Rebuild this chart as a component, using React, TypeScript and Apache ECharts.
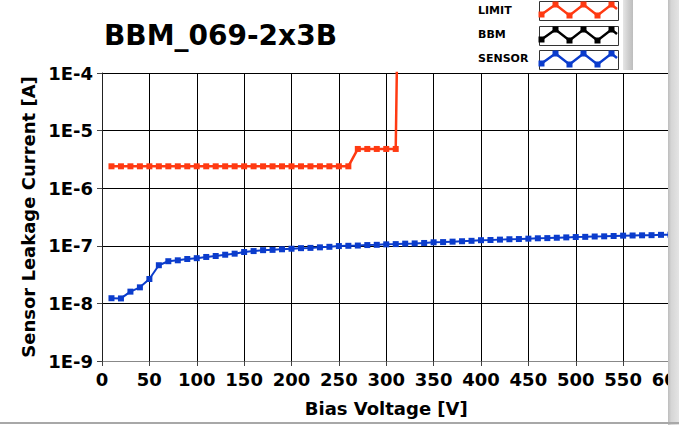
import React, { useEffect, useRef } from "react";
import * as echarts from "echarts";

const titleText = "BBM_069-2x3B";
const xAxisName = "Bias Voltage [V]";
const yAxisName = "Sensor Leakage Current [A]";
const seriesNames = ["LIMIT", "BBM", "SENSOR"];
const seriesColors = ["#ff3a12", "#000000", "#0b3ccc"];

const limitV = [10, 20, 30, 40, 50, 60, 70, 80, 90, 100, 110, 120, 130, 140, 150, 160, 170, 180, 190, 200, 210, 220, 230, 240, 250, 260, 270, 280, 290, 300, 310, 312];
const limitI = [2.4e-6, 2.4e-6, 2.4e-6, 2.4e-6, 2.4e-6, 2.4e-6, 2.4e-6, 2.4e-6, 2.4e-6, 2.4e-6, 2.4e-6, 2.4e-6, 2.4e-6, 2.4e-6, 2.4e-6, 2.4e-6, 2.4e-6, 2.4e-6, 2.4e-6, 2.4e-6, 2.4e-6, 2.4e-6, 2.4e-6, 2.4e-6, 2.4e-6, 2.4e-6, 4.8e-6, 4.8e-6, 4.8e-6, 4.8e-6, 4.8e-6, 1e-3];

const bbmV: number[] = [];
const bbmI: number[] = [];

const sensorV = [10, 20, 30, 40, 50, 60, 70, 80, 90, 100, 110, 120, 130, 140, 150, 160, 170, 180, 190, 200, 210, 220, 230, 240, 250, 260, 270, 280, 290, 300, 310, 320, 330, 340, 350, 360, 370, 380, 390, 400, 410, 420, 430, 440, 450, 460, 470, 480, 490, 500, 510, 520, 530, 540, 550, 560, 570, 580, 590, 600];
const sensorI = [1.23e-8, 1.22e-8, 1.6e-8, 1.9e-8, 2.65e-8, 4.6e-8, 5.4e-8, 5.6e-8, 5.9e-8, 6.1e-8, 6.4e-8, 6.65e-8, 7.0e-8, 7.3e-8, 7.8e-8, 8.1e-8, 8.4e-8, 8.5e-8, 8.7e-8, 8.9e-8, 9.1e-8, 9.2e-8, 9.4e-8, 9.6e-8, 9.9e-8, 1.0e-7, 1.01e-7, 1.03e-7, 1.04e-7, 1.06e-7, 1.07e-7, 1.09e-7, 1.1e-7, 1.12e-7, 1.15e-7, 1.16e-7, 1.18e-7, 1.2e-7, 1.22e-7, 1.25e-7, 1.26e-7, 1.28e-7, 1.3e-7, 1.31e-7, 1.33e-7, 1.35e-7, 1.36e-7, 1.38e-7, 1.4e-7, 1.42e-7, 1.43e-7, 1.45e-7, 1.46e-7, 1.48e-7, 1.5e-7, 1.51e-7, 1.52e-7, 1.53e-7, 1.55e-7, 1.56e-7];

const xMin = 0;
const xMax = 600;
const xInterval = 50;
const yMin = 1e-9;
const yMax = 1e-4;

const FONT = "DejaVu Sans";

function zip(xs: number[], ys: number[]) {
  return xs.map((x, i) => [x, ys[i]]);
}

function legendItem(name: string, color: string, top: number, textY: number): any[] {
  const left = 539;
  const right = 618;
  const pts = [
    [541.5, top + 13.5],
    [555.5, top + 3.5],
    [569.5, top + 14.5],
    [583.5, top + 3.5],
    [597.5, top + 14.5],
    [611.5, top + 3.5],
    [617, top + 8],
  ];
  const els: any[] = [
    {
      type: "text",
      left: 478,
      top: textY - 7,
      style: { text: name, fill: "#000", font: `bold 11px "${FONT}"` },
      z: 100,
    },
    {
      type: "rect",
      shape: { x: left + 0.5, y: top + 0.5, width: right - left, height: 19 },
      style: { fill: "#fff", stroke: "#333", lineWidth: 1 },
      z: 100,
    },
    {
      type: "polyline",
      shape: { points: pts },
      style: { stroke: color, lineWidth: 2.5, fill: null },
      z: 101,
    },
  ];
  pts.slice(0, 6).forEach((p) => {
    els.push({
      type: "rect",
      shape: { x: p[0] - 3, y: p[1] - 3, width: 6, height: 6 },
      style: { fill: color },
      z: 102,
    });
  });
  return els;
}

export default function App() {
  const ref = useRef<HTMLDivElement>(null);
  useEffect(() => {
    document.body.style.margin = "0";
    const chart = echarts.init(ref.current!, undefined, { renderer: "svg" });
    const option: any = {
      animation: false,
      backgroundColor: "#fff",
      grid: { left: 102, top: 73, right: 8.5, bottom: 64, containLabel: false, outerBoundsMode: "none" },
      xAxis: {
        type: "value",
        min: xMin,
        max: xMax,
        interval: xInterval,
        name: xAxisName,
        nameLocation: "middle",
        nameGap: 38,
        nameTextStyle: { fontFamily: FONT, fontWeight: "bold", fontSize: 18, color: "#000" },
        axisLine: { show: true, lineStyle: { color: "#888", width: 1 } },
        axisTick: { show: true, length: 5, lineStyle: { color: "#444" } },
        axisLabel: { fontFamily: FONT, fontWeight: "bold", fontSize: 18, color: "#000", margin: 9, showMaxLabel: true, showMinLabel: true, hideOverlap: false },
        splitLine: { show: true, lineStyle: { color: "#000", width: 1 } },
      },
      yAxis: {
        type: "log",
        logBase: 10,
        min: yMin,
        max: yMax,
        name: yAxisName,
        nameLocation: "middle",
        nameGap: 57,
        nameRotate: 90,
        nameTextStyle: { fontFamily: FONT, fontWeight: "bold", fontSize: 18, color: "#000" },
        axisLine: { show: true, lineStyle: { color: "#222", width: 1 } },
        axisTick: { show: true, length: 5, lineStyle: { color: "#444" } },
        minorTick: { show: false },
        axisLabel: {
          fontFamily: FONT,
          fontWeight: "bold",
          fontSize: 18,
          color: "#000",
          margin: 9,
          formatter: (v: number) => "1E" + Math.round(Math.log10(v)),
        },
        splitLine: { show: true, lineStyle: { color: "#000", width: 1 } },
      },
      series: [
        {
          name: seriesNames[0],
          type: "line",
          data: zip(limitV, limitI),
          symbol: "rect",
          symbolSize: 6,
          showAllSymbol: true,
          clip: true,
          lineStyle: { color: seriesColors[0], width: 2.5 },
          itemStyle: { color: seriesColors[0] },
          z: 3,
        },
        {
          name: seriesNames[1],
          type: "line",
          data: zip(bbmV, bbmI),
          symbol: "rect",
          symbolSize: 6,
          lineStyle: { color: seriesColors[1], width: 2.5 },
          itemStyle: { color: seriesColors[1] },
        },
        {
          name: seriesNames[2],
          type: "line",
          data: zip(sensorV, sensorI),
          symbol: "rect",
          symbolSize: 6,
          showAllSymbol: true,
          clip: true,
          lineStyle: { color: seriesColors[2], width: 2 },
          itemStyle: { color: seriesColors[2] },
          z: 3,
        },
      ],
      graphic: [
        {
          type: "text",
          left: 104,
          top: 21,
          style: { text: titleText, fill: "#000", font: `bold 28px "${FONT}"` },
          z: 100,
        },
        ...legendItem(seriesNames[0], seriesColors[0], 1, 12),
        ...legendItem(seriesNames[1], seriesColors[1], 26, 36),
        ...legendItem(seriesNames[2], seriesColors[2], 50, 60),
        {
          type: "rect",
          shape: { x: 623, y: 0, width: 10, height: 70 },
          style: {
            fill: new echarts.graphic.LinearGradient(0, 0, 1, 0, [
              { offset: 0, color: "#e6e6e6" },
              { offset: 0.5, color: "#d0d0d0" },
              { offset: 1, color: "#bdbdbd" },
            ]),
          },
          z: 100,
        },
        {
          type: "rect",
          shape: { x: 668, y: 0, width: 11, height: 425 },
          style: {
            fill: new echarts.graphic.LinearGradient(0, 0, 1, 0, [
              { offset: 0, color: "#bdbdbd" },
              { offset: 0.3, color: "#d6d6d6" },
              { offset: 1, color: "#e4e4e4" },
            ]),
          },
          z: 100,
        },
        {
          type: "rect",
          shape: { x: 0, y: 422, width: 679, height: 2 },
          style: { fill: "#a8a8a8" },
          z: 100,
        },
      ],
    };
    chart.setOption(option);
    return () => chart.dispose();
  }, []);
  return <div ref={ref} style={{ width: 679, height: 425 }} />;
}
